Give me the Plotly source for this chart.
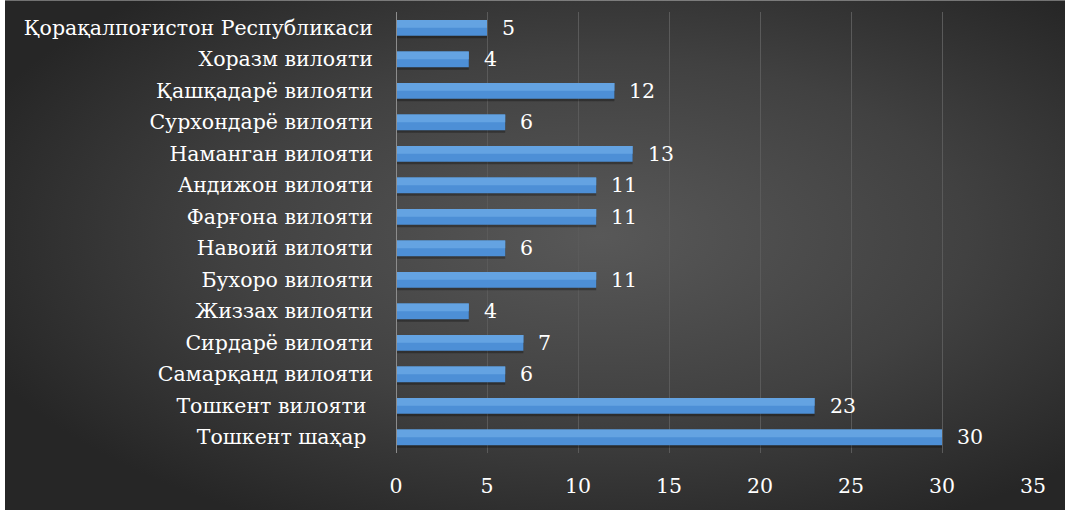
import base64
import plotly.graph_objects as go

regions = [
    "Қорақалпоғистон Республикаси",
    "Хоразм вилояти",
    "Қашқадарё вилояти",
    "Сурхондарё вилояти",
    "Наманган вилояти",
    "Андижон вилояти",
    "Фарғона вилояти",
    "Навоий вилояти",
    "Бухоро вилояти",
    "Жиззах вилояти",
    "Сирдарё вилояти",
    "Самарқанд вилояти",
    "Тошкент вилояти ",
    "Тошкент шаҳар ",
]
values = [5, 4, 12, 6, 13, 11, 11, 6, 11, 4, 7, 6, 23, 30]
x_ticks = [0, 5, 10, 15, 20, 25, 30, 35]

FONT = "DejaVu Serif"
FS = 20.5
W, H = 1065, 510
L, R, T, B = 396, 32, 12, 52
pw, ph = W - L - R, H - T - B

svg = (
    '<svg xmlns="http://www.w3.org/2000/svg" width="1080" height="530" preserveAspectRatio="none">'
    '<defs><radialGradient id="g" cx="0.55" cy="0.45" r="0.62">'
    '<stop offset="0" stop-color="#585858"/>'
    '<stop offset="0.55" stop-color="#414141"/>'
    '<stop offset="1" stop-color="#262626"/>'
    '</radialGradient></defs>'
    '<rect width="1080" height="530" fill="url(#g)"/></svg>'
)
bg_src = "data:image/svg+xml;base64," + base64.b64encode(svg.encode()).decode()

fig = go.Figure()

# soft shadow under the bars
fig.add_trace(go.Bar(
    y=regions, x=values, orientation="h",
    width=0.5, offset=-0.25 + 0.08,
    marker=dict(color="rgba(0,0,0,0.3)", line=dict(width=0)),
    hoverinfo="skip", showlegend=False,
))
fig.add_trace(go.Bar(
    y=regions, x=values, orientation="h",
    width=0.5, offset=-0.25,
    marker=dict(color="#4d8fd6", line=dict(width=0)),
    showlegend=False,
))
# lighter upper band to suggest the gradient
fig.add_trace(go.Bar(
    y=regions, x=values, orientation="h",
    width=0.25, offset=-0.25,
    marker=dict(color="#64a3e2", line=dict(width=0)),
    hoverinfo="skip", showlegend=False,
))

annotations = [
    dict(x=v, y=r, xref="x", yref="y", text=str(v), showarrow=False,
         xanchor="left", xshift=13, font=dict(family=FONT, size=FS, color="white"))
    for r, v in zip(regions, values)
]

fig.update_layout(
    width=W, height=H,
    margin=dict(l=L, r=R, t=T, b=B),
    paper_bgcolor="white",
    plot_bgcolor="rgba(0,0,0,0)",
    barmode="overlay",
    showlegend=False,
    annotations=annotations,
    images=[dict(
        source=bg_src, xref="paper", yref="paper",
        x=(5 - L) / pw, y=1 + T / ph,
        sizex=(W + 15) / pw, sizey=(H + 20) / ph,
        xanchor="left", yanchor="top", sizing="stretch", layer="below",
    )],
    xaxis=dict(
        range=[0, 35], tickvals=x_ticks, ticktext=[str(t) for t in x_ticks],
        showgrid=True, gridcolor="#5a5a5a", gridwidth=1,
        zeroline=False, showline=False, ticks="",
        ticklabelstandoff=18,
        tickfont=dict(family=FONT, size=FS, color="white"),
        fixedrange=True,
    ),
    yaxis=dict(
        autorange="reversed", showgrid=False, zeroline=False,
        showline=False, ticks="", ticklabelstandoff=22,
        tickfont=dict(family=FONT, size=FS, color="white"),
        fixedrange=True,
    ),
    shapes=[dict(type="line", xref="x", yref="paper", x0=0, x1=0, y0=0, y1=1,
                 line=dict(color="#8c8c8c", width=2), layer="above")],
)

fig.write_html(
    "out.html",
    config={"displayModeBar": False},
    post_script="document.body.style.margin='0';document.body.style.overflow='hidden';",
)
